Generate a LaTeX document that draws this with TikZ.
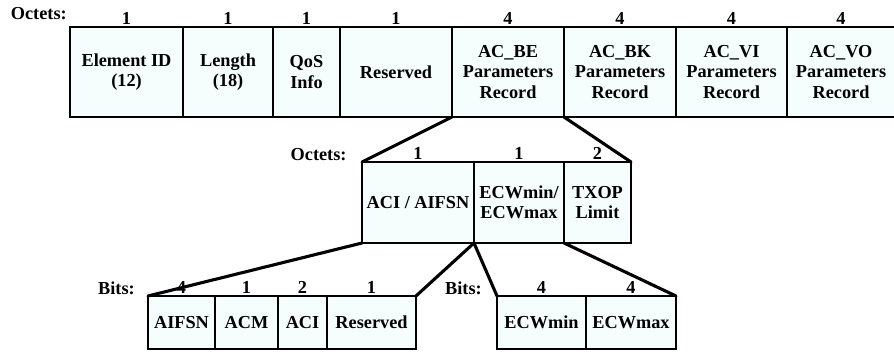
\documentclass[tikz,border=0pt]{standalone}
\usepackage{fontspec}
\setmainfont{Liberation Serif}
\usepackage{tikz}
\usetikzlibrary{positioning}
\definecolor{fieldfill}{RGB}{245, 253, 253}

\begin{document}
\begin{tikzpicture}[
  font=\fontsize{13}{14.5}\selectfont\bfseries,
  field/.style={draw=black, line width=1pt, fill=fieldfill, anchor=north west, outer sep=0pt, inner sep=1pt, align=center},
  rowa/.style={field, minimum height=2.25cm},
  rowb/.style={field, minimum height=2.025cm},
  rowc/.style={field, minimum height=1.325cm},
  num/.style={inner sep=1.5pt},
  unit/.style={anchor=base east, inner sep=0pt},
  zoomline/.style={line width=2.2pt, line cap=round}
]
  \useasboundingbox (0,0) rectangle (22.35,8.775);

  % element fields
  \node[unit] (octa) at (1.675, 8.29) {Octets:};
  \node[rowa, minimum width=2.825cm, label={[num]above:1}] (eid) at (1.75, 8.1) {Element ID\\(12)};
  \node[rowa, minimum width=2.25cm, label={[num]above:1}] (len) at (4.575, 8.1) {Length\\(18)};
  \node[rowa, minimum width=1.675cm, label={[num]above:1}] (qos) at (6.825, 8.1) {QoS\\Info};
  \node[rowa, minimum width=2.8cm, label={[num]above:1}] (resa) at (8.5, 8.1) {Reserved};
  \node[rowa, minimum width=2.8cm, label={[num]above:4}] (acbe) at (11.3, 8.1) {AC\_BE\\Parameters\\Record};
  \node[rowa, minimum width=2.8cm, label={[num]above:4}] (acbk) at (14.1, 8.1) {AC\_BK\\Parameters\\Record};
  \node[rowa, minimum width=2.775cm, label={[num]above:4}] (acvi) at (16.9, 8.1) {AC\_VI\\Parameters\\Record};
  \node[rowa, minimum width=2.7cm, label={[num]above:4}] (acvo) at (19.675, 8.1) {AC\_VO\\Parameters\\Record};

  % parameters record
  \node[unit] (octb) at (8.67, 4.76) {Octets:};
  \node[rowb, minimum width=2.8cm, label={[num]above:1}] (aci) at (9.05, 4.725) {ACI / AIFSN};
  \node[rowb, minimum width=2.25cm, label={[num]above:1}] (ecw) at (11.85, 4.725) {ECWmin/\\ECWmax};
  \node[rowb, minimum width=1.675cm, label={[num]above:2}] (txop) at (14.1, 4.725) {TXOP\\Limit};

  % ACI/AIFSN bits
  \node[unit] (bitsa) at (3.375, 1.425) {Bits:};
  \node[rowc, minimum width=1.675cm, label={[num]above:4}] (aifsn) at (3.7, 1.375) {AIFSN};
  \node[rowc, minimum width=1.575cm, label={[num]above:1}] (acm) at (5.375, 1.375) {ACM};
  \node[rowc, minimum width=1.225cm, label={[num]above:2}] (acibits) at (6.95, 1.375) {ACI};
  \node[rowc, minimum width=2.225cm, label={[num]above:1}] (resb) at (8.175, 1.375) {Reserved};

  % ECW bits
  \node[unit] (bitsb) at (12.05, 1.425) {Bits:};
  \node[rowc, minimum width=2.225cm, label={[num]above:4}] (ecwmin) at (12.425, 1.375) {ECWmin};
  \node[rowc, minimum width=2.25cm, label={[num]above:4}] (ecwmax) at (14.65, 1.375) {ECWmax};

  \draw[zoomline] (acbe.south west) -- (aci.north west);
  \draw[zoomline] (acbe.south east) -- (txop.north east);
  \draw[zoomline] (aci.south west) -- (aifsn.north west);
  \draw[zoomline] (aci.south east) -- (resb.north east);
  \draw[zoomline] (ecw.south west) -- (ecwmin.north west);
  \draw[zoomline] (ecw.south east) -- (ecwmax.north east);
\end{tikzpicture}
\end{document}
